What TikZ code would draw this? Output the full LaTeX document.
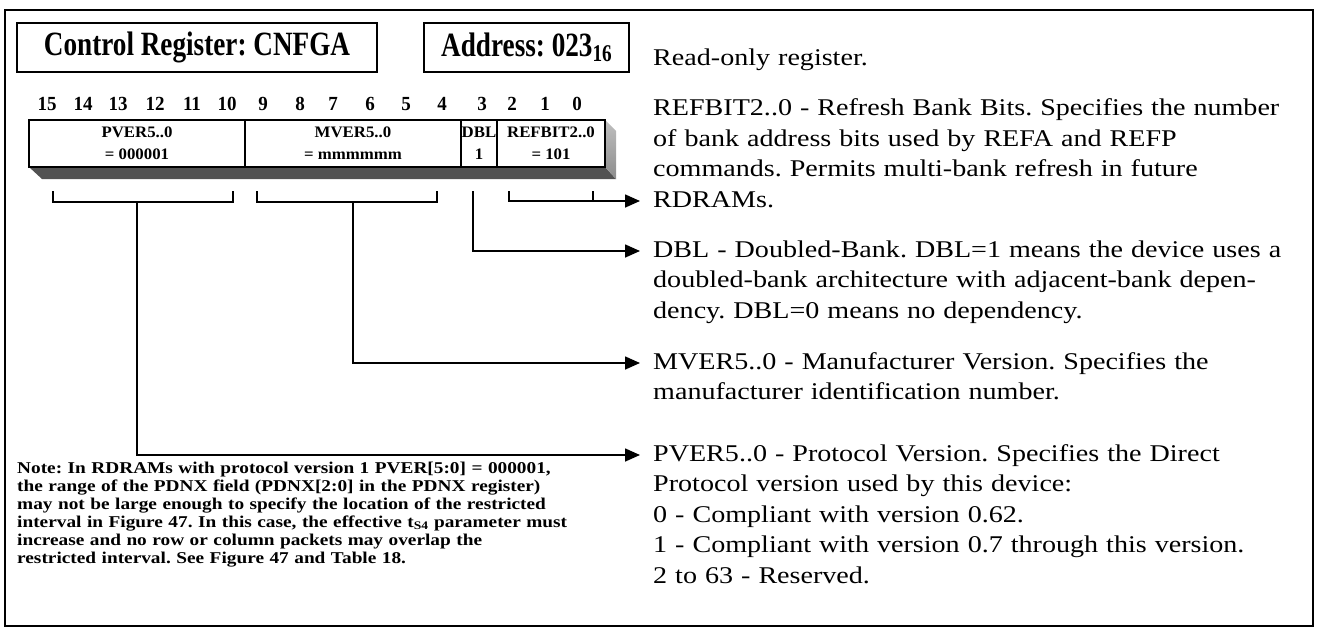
\documentclass[tikz,border=0pt]{standalone}
\usepackage{fontspec}
\setmainfont{Liberation Serif}
\newfontfamily\bodyfont[FakeStretch=1.17]{Liberation Serif}
\newfontfamily\titlefont[FakeStretch=0.8]{Liberation Serif}
\newfontfamily\numfont[FakeStretch=0.95]{Liberation Serif}
\newfontfamily\fieldfont[FakeStretch=1.05]{Liberation Serif}
\newfontfamily\notefont[FakeStretch=1.17]{Liberation Serif}
\usetikzlibrary{%
  arrows.meta,%
  positioning%
}
\frenchspacing

\tikzset{
  titlebox/.style={draw,line width=1.6pt,minimum height=49pt,inner sep=0pt,
    font=\titlefont\bfseries\fontsize{34}{34}\selectfont},
  field/.style={draw,line width=1.6pt,minimum height=47pt,inner sep=0pt,align=center,
    font=\fieldfont\bfseries\fontsize{16}{22}\selectfont},
  bitnum/.style={anchor=base,inner sep=0pt,font=\numfont\bfseries\fontsize{20}{20}\selectfont},
  desc/.style={anchor=base west,inner sep=0pt,text width=680pt,align=left,
    font=\bodyfont\fontsize{24}{30.5}\selectfont},
  note/.style={anchor=base west,inner sep=0pt,text width=640pt,align=left,
    font=\notefont\bfseries\fontsize{16.5}{18}\selectfont},
  link/.style={line width=1.6pt},
  pointer/.style={link,-{Triangle[length=15pt,width=13pt]}}
}

\begin{document}
\begin{tikzpicture}[x=1pt,y=-1pt]
  \useasboundingbox (0,0) rectangle (1323,630);
  \draw[line width=2pt] (5,10) rectangle (1313,626);

  % header boxes
  \node[titlebox,minimum width=360pt] (ctrl) at (197,47.5) {Control Register: CNFGA};
  \node[titlebox,minimum width=205pt] (addr) at (526.5,47.5)
    {Address: 023\raisebox{-0.35ex}{\fontsize{24}{24}\selectfont 16}};

  % bit numbers
  \foreach \b/\x in {15/47,14/83,13/118,12/155,11/192,10/227,9/263,8/300,
                     7/333,6/370,5/406,4/442,3/482,2/512,1/545,0/577}
    \node[bitnum] (bit\b) at (\x,110) {\b};

  % shadow of the register
  \fill[black!68] (29,167) -- (42,179) -- (616,179) -- (605,167) -- cycle;
  \shade[top color=black!25,bottom color=black!45] (605,120) -- (616,131) -- (616,179) -- (605,167) -- cycle;

  % register fields
  \node[field,minimum width=216pt] (pver) at (137,143.5) {PVER5..0\\= 000001};
  \node[field,minimum width=216pt] (mver) at (353,143.5) {MVER5..0\\= mmmmmm};
  \node[field,minimum width=36pt] (dbl) at (479,143.5) {DBL\\1};
  \node[field,minimum width=108pt] (refbit) at (551,143.5) {REFBIT2..0\\= 101};

  % descriptions
  \node[desc] (rodesc) at (653,65) {Read-only register.};
  \node[desc] (refdesc) at (653,115.5) {REFBIT2..0 - Refresh Bank Bits. Specifies the number\\
    of bank address bits used by REFA and REFP\\
    commands. Permits multi-bank refresh in future\\
    RDRAMs.};
  \node[desc] (dbldesc) at (653,257) {DBL - Doubled-Bank. DBL=1 means the device uses a\\
    doubled-bank architecture with adjacent-bank depen-\\
    dency. DBL=0 means no dependency.};
  \node[desc] (mverdesc) at (653,369) {MVER5..0 - Manufacturer Version. Specifies the\\
    manufacturer identification number.};
  \node[desc] (pverdesc) at (653,461) {PVER5..0 - Protocol Version. Specifies the Direct\\
    Protocol version used by this device:\\
    0 - Compliant with version 0.62.\\
    1 - Compliant with version 0.7 through this version.\\
    2 to 63 - Reserved.};

  % note
  \node[note] (pvernote) at (17,473) {Note: In RDRAMs with protocol version 1 PVER[5:0] = 000001,\\
    the range of the PDNX field (PDNX[2:0] in the PDNX register)\\
    may not be large enough to specify the location of the restricted\\
    interval in Figure 47. In this case, the effective t\textsubscript{S4} parameter must\\
    increase and no row or column packets may overlap the\\
    restricted interval. See Figure 47 and Table 18.};

  % arrow tips
  \coordinate (tipref) at ([xshift=-13pt,yshift=-85.5pt]refdesc.base west);
  \coordinate (tipdbl) at ([xshift=-13pt,yshift=6pt]dbldesc.base west);
  \coordinate (tipmver) at ([xshift=-13pt,yshift=6pt]mverdesc.base west);
  \coordinate (tippver) at ([xshift=-13pt,yshift=6pt]pverdesc.base west);

  % brackets and pointers
  \draw[link] (53,191) |- (233,202) -- (233,191);
  \draw[pointer] (137,202) |- (tippver);
  \draw[link] (257,191) |- (437,202) -- (437,191);
  \draw[pointer] (353,202) |- (tipmver);
  \draw[pointer] (473,191) |- (tipdbl);
  \draw[pointer] (509,191) |- (tipref);
  \draw[link] (593,191) -- (593,202);
\end{tikzpicture}
\end{document}
